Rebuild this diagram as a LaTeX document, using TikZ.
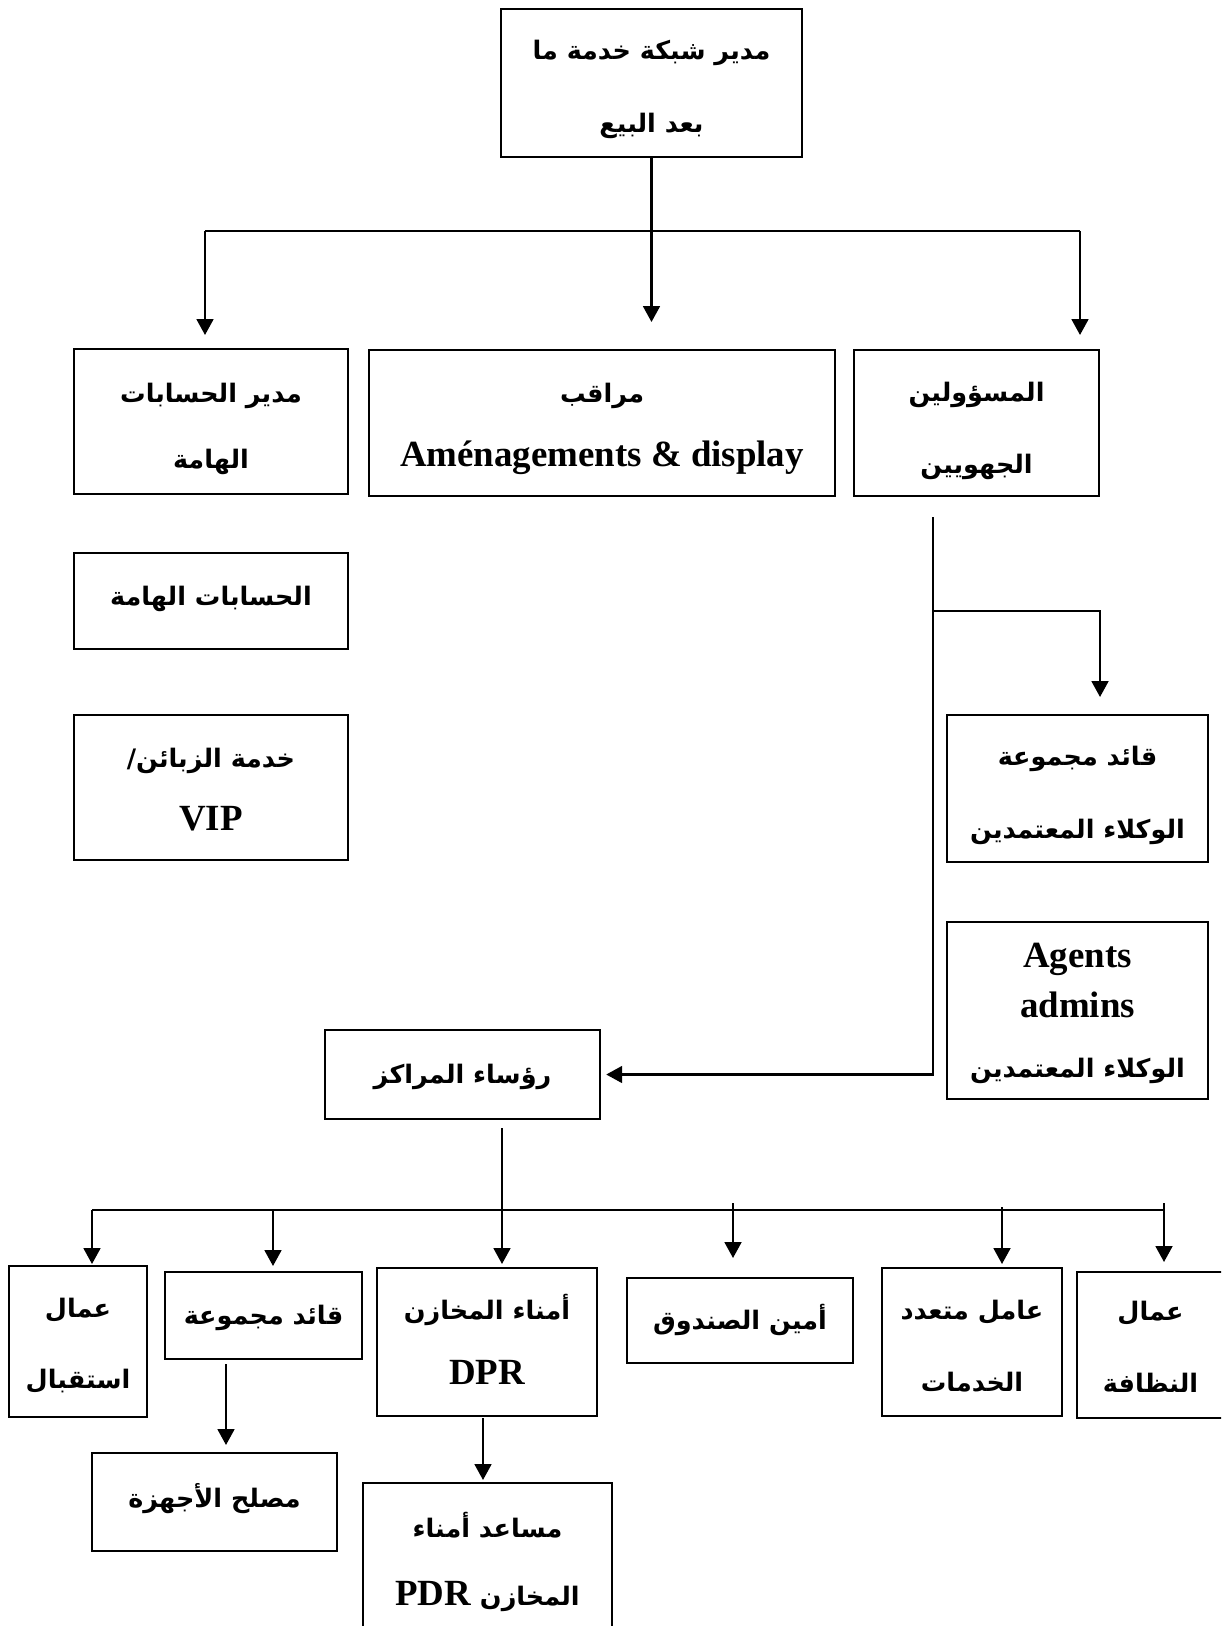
\documentclass[tikz,border=0pt]{standalone}
\usepackage{fontspec}
\setmainfont{Liberation Serif}
\newfontfamily\arfont[Script=Arabic]{DejaVu Sans}
\TeXXeTstate=1
\usetikzlibrary{arrows.meta,fit}
\newcommand\AR[1]{\raisebox{0pt}[11pt][3.8pt]{\arfont\bfseries\fontsize{14.5}{14.5}\selectfont #1}}
\newcommand\LT[1]{\raisebox{0pt}[17pt][3pt]{#1}}
\newcommand\LTf{\rmfamily\bfseries\fontsize{21}{21}\selectfont}
\tikzset{
  box/.style={draw, line width=1.1pt, inner sep=0pt},
  txt/.style={align=center, inner sep=0pt,
    font=\rmfamily\bfseries\fontsize{21}{#1}\selectfont},
  txt/.default=38pt,
  conn/.style={line width=1.3pt},
  arr/.style={line width=1.3pt, -{Triangle[length=9pt,width=9.5pt]}}
}
\begin{document}
\begin{tikzpicture}[x=0.02cm,y=-0.02cm]
\useasboundingbox (0,0) rectangle (1221,1626);
\clip (0,0) rectangle (1221,1626);
% boxes
\node[box, fit={(501,9)(802,157)}, label={[txt=41.5pt, yshift=-3.8pt]center:{\AR{\beginR مدير شبكة خدمة ما\endR}\\\AR{\beginR بعد البيع\endR}}}] (top) {};
\node[box, fit={(74,349)(348,494)}, label={[txt=38pt, yshift=-4.4pt]center:{\AR{\beginR مدير الحسابات\endR}\\\AR{\beginR الهامة\endR}}}] (mgr) {};
\node[box, fit={(369,350)(835,496)}, label={[txt=36.5pt, yshift=-2.7pt]center:{\AR{\beginR مراقب\endR}\\\LT{Aménagements \& display}}}] (mon) {};
\node[box, fit={(854,350)(1099,496)}, label={[txt=41pt, yshift=-4.4pt]center:{\AR{\beginR المسؤولين\endR}\\\AR{\beginR الجهويين\endR}}}] (reg) {};
\node[box, fit={(74,553)(348,649)}, label={[txt, yshift=1pt]center:{\AR{\beginR الحسابات الهامة\endR}}}] (acc) {};
\node[box, fit={(74,715)(348,860)}, label={[txt=36pt, yshift=-2.7pt]center:{\AR{\beginR خدمة الزبائن/\endR}\\\LT{VIP}}}] (vip) {};
\node[box, fit={(947,715)(1208,862)}, label={[txt=41.5pt, yshift=-4.1pt]center:{\AR{\beginR قائد مجموعة\endR}\\\AR{\beginR الوكلاء المعتمدين\endR}}}] (lead1) {};
\node[box, fit={(947,922)(1208,1099)}, label={[txt=28pt, yshift=-0.3pt]center:{\LT{Agents}\\\LT{admins}\\[6.3pt]\AR{\beginR الوكلاء المعتمدين\endR}}}] (agents) {};
\node[box, fit={(325,1030)(600,1119)}, label={[txt, yshift=-1.6pt]center:{\AR{\beginR رؤساء المراكز\endR}}}] (heads) {};
\node[box, fit={(9,1266)(147,1417)}, label={[txt=40pt, yshift=-3pt]center:{\AR{\beginR عمال\endR}\\\AR{\beginR استقبال\endR}}}] (recep) {};
\node[box, fit={(165,1272)(362,1359)}, label={[txt, yshift=-1.6pt]center:{\AR{\beginR قائد مجموعة\endR}}}] (lead2) {};
\node[box, fit={(377,1268)(597,1416)}, label={[txt=37pt, yshift=-1.8pt]center:{\AR{\beginR أمناء المخازن\endR}\\\LT{DPR}}}] (store) {};
\node[box, fit={(627,1278)(853,1363)}, label={[txt, yshift=-1.3pt]center:{\AR{\beginR أمين الصندوق\endR}}}] (cash) {};
\node[box, fit={(882,1268)(1062,1416)}, label={[txt=41pt, yshift=-4.1pt]center:{\AR{\beginR عامل متعدد\endR}\\\AR{\beginR الخدمات\endR}}}] (multi) {};
\node[box, fit={(1077,1272)(1224,1418)}, label={[txt=41pt, yshift=-2.7pt]center:{\AR{\beginR عمال\endR}\\\AR{\beginR النظافة\endR}}}] (clean) {};
\node[box, fit={(92,1453)(337,1551)}, label={[txt, yshift=0.7pt]center:{\AR{\beginR مصلح الأجهزة\endR}}}] (repair) {};
\node[box, fit={(363,1483)(612,1640)}, label={[txt=39pt, yshift=-2.1pt]center:{\AR{\beginR مساعد أمناء\endR}\\\AR{\beginR المخازن {\LTf\beginL PDR\endL}\endR}}}] (assist) {};
% coordinates
\coordinate (b1L) at (205,231);
\coordinate (b1R) at (1080,231);
\coordinate (a1L) at (205,335);
\coordinate (a1M) at (top.south |- 0,322);
\coordinate (a1R) at (1080,335);
\coordinate (rv1) at (933,517);
\coordinate (rv2) at (933,611);
\coordinate (rb) at (1100,611);
\coordinate (rbe) at (1100,697);
\coordinate (hs) at (502,1128);
\coordinate (hbe) at (502,1264);
\coordinate (bL) at (92,1210);
\coordinate (bR) at (1164,1210);
\coordinate (t1) at (92,1210);   \coordinate (e1) at (92,1264);
\coordinate (t2) at (273,1210);  \coordinate (e2) at (273,1266);
\coordinate (t4) at (733,1203);  \coordinate (e4) at (733,1258);
\coordinate (t5) at (1002,1207); \coordinate (e5) at (1002,1264);
\coordinate (t6) at (1164,1203); \coordinate (e6) at (1164,1262);
\coordinate (l2s) at (226,1364); \coordinate (l2e) at (226,1445);
\coordinate (sts) at (483,1418); \coordinate (ste) at (483,1480);
% connectors level 1
\draw[conn] (b1L) -- (b1R);
\draw[arr] (top.south) -- (a1M);
\draw[arr] (b1L) -- (a1L);
\draw[arr] (b1R) -- (a1R);
% right branch
\draw[arr] (rv1) |- ([xshift=3pt]heads.east);
\draw[arr] (rv2) -- (rb) -- (rbe);
% bottom bus
\draw[conn] (bL) -- (bR);
\draw[arr] (hs) -- (hbe);
\draw[arr] (t1) -- (e1);
\draw[arr] (t2) -- (e2);
\draw[arr] (t4) -- (e4);
\draw[arr] (t5) -- (e5);
\draw[arr] (t6) -- (e6);
\draw[arr] (l2s) -- (l2e);
\draw[arr] (sts) -- (ste);
\end{tikzpicture}
\end{document}
